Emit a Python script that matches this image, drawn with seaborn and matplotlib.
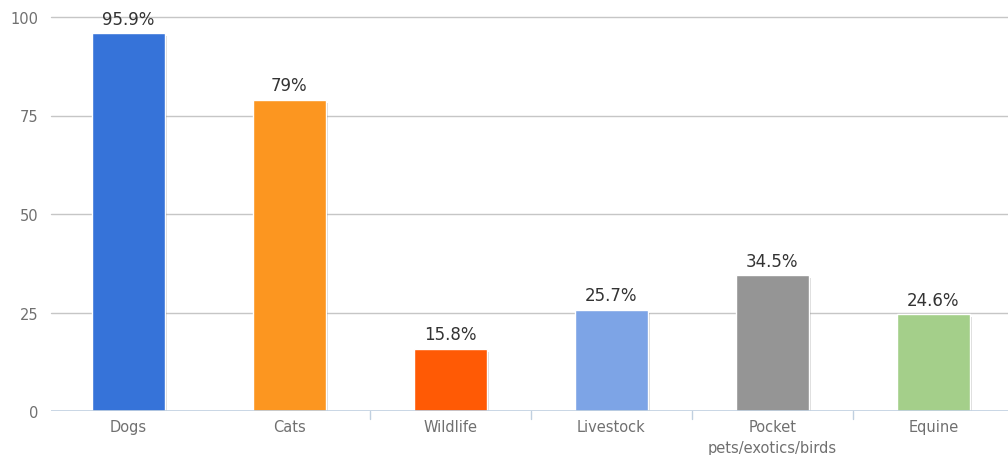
import matplotlib
matplotlib.use("Agg")
import matplotlib.pyplot as plt
import matplotlib.patheffects as pe
import seaborn as sns
import pandas as pd

categories = ["Dogs", "Cats", "Wildlife", "Livestock", "Pocket\npets/exotics/birds", "Equine"]
values = [95.9, 79, 15.8, 25.7, 34.5, 24.6]
value_labels = ["95.9%", "79%", "15.8%", "25.7%", "34.5%", "24.6%"]
colors = ["#3673d9", "#fc9620", "#ff5a05", "#7da4e6", "#959595", "#a4cf8a"]
yticks = [0, 25, 50, 75, 100]

sns.set_theme(style="white")
plt.rcParams["font.family"] = ["DejaVu Sans"]

df = pd.DataFrame({"category": categories, "value": values})

fig = plt.figure(figsize=(10.08, 4.56), dpi=100)
ax = fig.add_axes([51 / 1008, 1 - 412 / 456, 1 - 51 / 1008, 394 / 456])

sns.barplot(data=df, x="category", y="value", hue="category",
            palette=colors, saturation=1, width=0.45, legend=False, ax=ax,
            edgecolor="white", linewidth=1.0, zorder=3)

for patch in ax.patches:
    patch.set_path_effects([
        pe.SimplePatchShadow(offset=(2, -2), shadow_rgbFace="#000000", alpha=0.15),
        pe.Normal(),
    ])

for patch, lab in zip(ax.patches, value_labels):
    ax.annotate(lab, (patch.get_x() + patch.get_width() / 2, patch.get_height()),
                xytext=(0, 4), textcoords="offset points", ha="center", va="bottom",
                fontsize=12, color="#333333", annotation_clip=False, zorder=5)

ax.set_ylim(0, 100)
ax.set_xlim(-0.48, -0.48 + (1008 - 51) / 161)
ax.set_yticks(yticks)
ax.set_yticklabels([str(t) for t in yticks])
ax.set_xlabel("")
ax.set_ylabel("")

for t in yticks[1:]:
    ax.axhline(t, color="#c6c6c6", lw=1, zorder=1, clip_on=False)
ax.axhline(0, color="#c0d0e0", lw=1.2, zorder=4)

for s in ax.spines.values():
    s.set_visible(False)

ax.tick_params(axis="y", length=0, pad=9, labelsize=10.5, labelcolor="#707070")
ax.tick_params(axis="x", length=0, pad=6, labelsize=10.5, labelcolor="#707070")
for lbl in ax.get_xticklabels():
    lbl.set_linespacing(1.5)

# category separators along the base line
for b in [1.5, 2.5, 3.5, 4.5]:
    ax.plot([b, b], [0, -2], color="#c0d0e0", lw=1, clip_on=False, zorder=4)

fig.savefig("out.png", dpi=100)
